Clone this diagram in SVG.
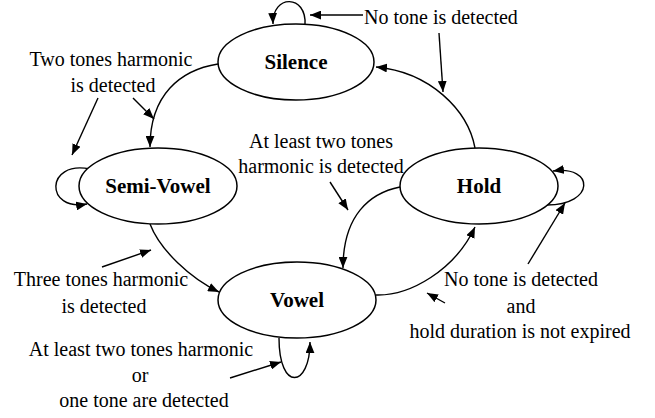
<svg xmlns="http://www.w3.org/2000/svg" width="655" height="418" viewBox="0 0 655 418">
<style>
.node{fill:#fff;stroke:#000;stroke-width:1.5}
.nl{font-family:"Liberation Serif","Times New Roman",serif;font-weight:bold;font-size:21px;text-anchor:middle;fill:#000}
.lb{font-family:"Liberation Serif","Times New Roman",serif;font-size:20px;fill:#000}
.c{text-anchor:middle}
.e{fill:none;stroke:#000;stroke-width:1.4;marker-end:url(#ah)}
</style>
<defs>
<marker id="ah" viewBox="0 0 10 8" refX="10" refY="4" markerWidth="11" markerHeight="9" markerUnits="userSpaceOnUse" orient="auto">
<path d="M0,0 L10,4 L0,8 z" fill="#000"/>
</marker>
</defs>
<g id="connectors">
<path class="e" d="M218,64 C180,70 150,95 150,147"/>
<path class="e" d="M475,148 C468,110 430,72 376,67"/>
<path class="e" d="M150,224 C160,250 190,278 219,292"/>
<path class="e" d="M400,187 C370,193 343,215 343,268"/>
<path class="e" d="M376,295 C410,296 455,270 475,227"/>
<path class="e" d="M305,25 C307,-6 272,-6 273,24"/>
<path class="e" d="M90,169 C45,160 45,212 87,204"/>
<path class="e" d="M547,205 C595,205 595,165 553,171"/>
<path class="e" d="M279,338 C279,392 310,388 310,342"/>
<path class="e" d="M363,15 L310,15"/>
<path class="e" d="M439,33 L443,92"/>
<path class="e" d="M133,98 L154,119"/>
<path class="e" d="M98,98 L72,155"/>
<path class="e" d="M330,182 L348,210"/>
<path class="e" d="M528,264 L565,203"/>
<path class="e" d="M445,303 L427,293"/>
<path class="e" d="M102,267 L151,250"/>
<path class="e" d="M230,378 L281,362"/>
</g>
<g id="silence"><ellipse class="node" cx="296" cy="62" rx="78" ry="38"/><text class="nl" x="296" y="69">Silence</text></g>
<g id="semivowel"><ellipse class="node" cx="158" cy="186" rx="79" ry="38"/><text class="nl" x="158" y="193">Semi-Vowel</text></g>
<g id="hold"><ellipse class="node" cx="479" cy="186" rx="79" ry="38"/><text class="nl" x="479" y="193">Hold</text></g>
<g id="vowel"><ellipse class="node" cx="297" cy="300" rx="79" ry="38"/><text class="nl" x="297" y="307">Vowel</text></g>
<g id="labels">
<text class="lb" x="364" y="24">No tone is detected</text>
<text class="lb c" x="111" y="66">Two tones harmonic</text>
<text class="lb c" x="113" y="92">is detected</text>
<text class="lb c" x="321" y="148">At least two tones</text>
<text class="lb c" x="321" y="173">harmonic is detected</text>
<text class="lb c" x="101" y="286">Three tones harmonic</text>
<text class="lb c" x="104" y="313">is detected</text>
<text class="lb c" x="141" y="356">At least two tones harmonic</text>
<text class="lb c" x="140" y="382">or</text>
<text class="lb c" x="144" y="407">one tone are detected</text>
<text class="lb c" x="521" y="286">No tone is detected</text>
<text class="lb c" x="521" y="313">and</text>
<text class="lb c" x="520" y="338">hold duration is not expired</text>
</g>
</svg>
